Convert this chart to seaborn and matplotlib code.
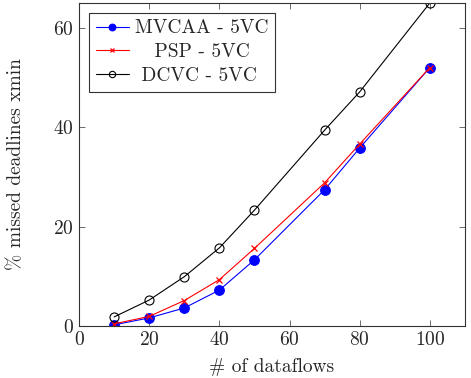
import pandas as pd
import matplotlib
matplotlib.use("Agg")
import matplotlib.pyplot as plt
import seaborn as sns

# values
flows = [10, 20, 30, 40, 50, 70, 80, 100]
mvcaa = [0.2, 1.6, 3.6, 7.2, 13.3, 27.4, 35.8, 52.0]
psp = [0.4, 1.9, 5.1, 9.3, 15.6, 28.8, 36.6, 52.0]
dcvc = [1.8, 5.2, 9.9, 15.7, 23.3, 39.4, 47.1, 65.0]
# leading spaces roughly centre the entries like the original legend
labels = ["MVCAA - 5VC", "   PSP - 5VC", " DCVC - 5VC"]

sns.set_style("ticks")
plt.rcParams["font.family"] = ["cmr10", "DejaVu Serif"]
plt.rcParams["axes.formatter.use_mathtext"] = True
plt.rcParams["mathtext.fontset"] = "cm"

fig = plt.figure(figsize=(4.71, 3.78), dpi=100)
ax = fig.add_axes([0.168, 0.138, 0.819, 0.854])

styles = [
    dict(color="blue", marker="o", markersize=7, markerfacecolor="blue", markeredgecolor="blue"),
    dict(color="red", marker="x", markersize=5, markeredgecolor="red", markeredgewidth=0.9),
    dict(color="black", marker="o", markersize=6.5, markerfacecolor="none", markeredgecolor="black", markeredgewidth=0.8),
]
for vals, lab, st in zip([mvcaa, psp, dcvc], labels, styles):
    df = pd.DataFrame({"x": flows, "y": vals})
    sns.lineplot(data=df, x="x", y="y", ax=ax, label=lab, linewidth=0.8, **st)

ax.set_xlim(0, 110)
ax.set_ylim(0, 65)
ax.set_xticks([0, 20, 40, 60, 80, 100])
ax.set_yticks([0, 20, 40, 60])
ax.tick_params(direction="in", top=True, right=True, labelsize=14, length=4.5,
               width=0.6, color="#555555", pad=4)
for s in ax.spines.values():
    s.set_linewidth(0.8)
    s.set_color("#333333")
    s.set_visible(True)
ax.set_xlabel("# of dataflows", fontsize=14, labelpad=6)
ax.set_ylabel("% missed deadlines xmin", fontsize=14, labelpad=20)

leg = ax.legend(loc="upper left", fontsize=14, fancybox=False, edgecolor="#333333",
                framealpha=1, borderaxespad=0.5, handlelength=1.7, handletextpad=0.3,
                labelspacing=0.3, borderpad=0.35, markerscale=0.7)
leg.get_frame().set_linewidth(0.8)

fig.savefig("out.png", dpi=100)
